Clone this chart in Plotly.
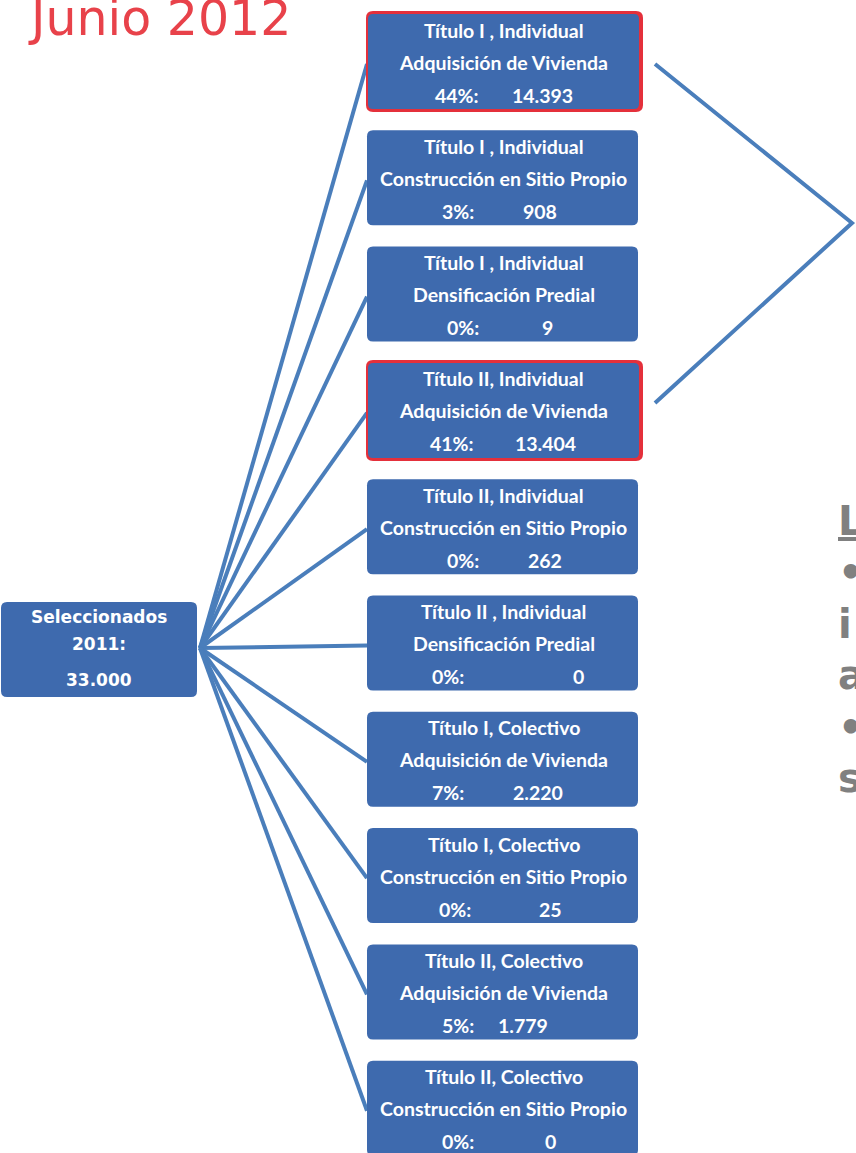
import plotly.graph_objects as go

# ---------------- data ----------------
titulo = ["Título I , Individual", "Título I , Individual", "Título I , Individual",
          "Título II, Individual", "Título II, Individual", "Título II , Individual",
          "Título I, Colectivo", "Título I, Colectivo", "Título II, Colectivo",
          "Título II, Colectivo"]
modalidad = ["Adquisición de Vivienda", "Construcción en Sitio Propio", "Densificación Predial",
             "Adquisición de Vivienda", "Construcción en Sitio Propio", "Densificación Predial",
             "Adquisición de Vivienda", "Construcción en Sitio Propio",
             "Adquisición de Vivienda", "Construcción en Sitio Propio"]
porcentaje = [44, 3, 0, 41, 0, 0, 7, 0, 5, 0]
cantidad = [14393, 908, 9, 13404, 262, 0, 2220, 25, 1779, 0]
destacados = [0, 3]

raiz_lineas = ["Seleccionados", "2011:"]
raiz_total = 33000
titulo_fecha = "Junio 2012"
texto_derecha = ["<u>L</u>", "•", "i", "a", "•", "s"]


def miles(n):
    return f"{n:,}".replace(",", ".")


# ---------------- layout constants ----------------
W, H = 856, 1153
BLUE = "#3E6AAE"
LINE = "#4A7EBB"
RED = "#E4303B"
BOX_X0, BOX_X1 = 367, 638
BOX_TOP0, BOX_STEP, BOX_H = 14, 116.3, 95
ROOT = (1, 602, 197, 697)
HUB = (200, 648)
pct_right = [481, 476, 481, 476, 481, 466, 466, 473, 476, 476]
cnt_center = [542, 540, 547, 545, 545, 578, 538, 550, 523, 550]


def rrect(x0, y0, x1, y1, r):
    return (f"M {x0+r},{y0} L {x1-r},{y0} Q {x1},{y0} {x1},{y0+r} "
            f"L {x1},{y1-r} Q {x1},{y1} {x1-r},{y1} L {x0+r},{y1} "
            f"Q {x0},{y1} {x0},{y1-r} L {x0},{y0+r} Q {x0},{y0} {x0+r},{y0} Z")


fig = go.Figure()
shapes = []
annotations = []
box_font = dict(family="Lato, 'Open Sans', sans-serif", size=19.5, color="white", weight="bold")

# connector lines from the hub to every box
for i in range(len(titulo)):
    top = BOX_TOP0 + i * BOX_STEP
    fig.add_trace(go.Scatter(x=[HUB[0], BOX_X0], y=[HUB[1], top + 50], mode="lines",
                             line=dict(color=LINE, width=4), hoverinfo="skip",
                             showlegend=False))

# bracket linking the two highlighted boxes
t0 = BOX_TOP0 + destacados[0] * BOX_STEP
t1 = BOX_TOP0 + destacados[1] * BOX_STEP
fig.add_trace(go.Scatter(x=[655, 852, 655], y=[t0 + 50, 223, t1 + 40], mode="lines",
                         line=dict(color=LINE, width=4), hoverinfo="skip",
                         showlegend=False))

for i in range(len(titulo)):
    top = BOX_TOP0 + i * BOX_STEP
    bot = top + BOX_H
    if i in destacados:
        shapes.append(dict(type="path", path=rrect(BOX_X0 - 1, top - 3, BOX_X1 + 5, bot + 3, 7),
                           fillcolor=RED, line=dict(width=0), layer="above"))
        shapes.append(dict(type="path", path=rrect(BOX_X0 + 1, top, BOX_X1 + 1, bot, 5),
                           fillcolor=BLUE, line=dict(width=0), layer="above"))
    else:
        shapes.append(dict(type="path", path=rrect(BOX_X0, top, BOX_X1, bot, 6),
                           fillcolor=BLUE, line=dict(width=0), layer="above"))
    cx = (BOX_X0 + BOX_X1) / 2 + 1
    annotations.append(dict(x=cx, y=top + 16, text=titulo[i], showarrow=False,
                            xanchor="center", yanchor="middle", font=box_font))
    annotations.append(dict(x=cx, y=top + 48, text=modalidad[i], showarrow=False,
                            xanchor="center", yanchor="middle", font=box_font))
    annotations.append(dict(x=pct_right[i], y=top + 81, text=f"{porcentaje[i]}%:",
                            showarrow=False, xanchor="right", yanchor="middle", font=box_font))
    annotations.append(dict(x=cnt_center[i], y=top + 81, text=miles(cantidad[i]),
                            showarrow=False, xanchor="center", yanchor="middle", font=box_font))

# root box
shapes.append(dict(type="path", path=rrect(*ROOT, 6), fillcolor=BLUE,
                   line=dict(width=0), layer="above"))
root_font = dict(family="DejaVu Sans", size=17, color="white", weight="bold")
rcx = (ROOT[0] + ROOT[2]) / 2
annotations.append(dict(x=rcx, y=617, text=f"<b>{raiz_lineas[0]}</b>", showarrow=False,
                        xanchor="center", yanchor="middle", font=root_font))
annotations.append(dict(x=rcx, y=644, text=f"<b>{raiz_lineas[1]}</b>", showarrow=False,
                        xanchor="center", yanchor="middle", font=root_font))
annotations.append(dict(x=rcx, y=680, text=f"<b>{miles(raiz_total)}</b>", showarrow=False,
                        xanchor="center", yanchor="middle", font=root_font))

# title
annotations.append(dict(x=26, y=18, text=titulo_fecha, showarrow=False, xanchor="left",
                        yanchor="middle", font=dict(family="DejaVu Sans", size=49,
                                                    color="#E8424A")))

# cut-off text on the right
for k, t in enumerate(texto_derecha):
    annotations.append(dict(x=836, y=521 + k * 51.4, text=f"<b>{t}</b>", showarrow=False,
                            xanchor="left", yanchor="middle",
                            font=dict(family="DejaVu Sans", size=40, color="#808080")))

fig.update_layout(
    width=W, height=H, margin=dict(l=0, r=0, t=0, b=0),
    paper_bgcolor="white", plot_bgcolor="white",
    xaxis=dict(range=[0, W], visible=False, fixedrange=True),
    yaxis=dict(range=[H, 0], visible=False, fixedrange=True),
    shapes=shapes, annotations=annotations, showlegend=False,
)
fig.write_html("out.html", config={"displayModeBar": False},
               post_script="document.body.style.margin='0';")
